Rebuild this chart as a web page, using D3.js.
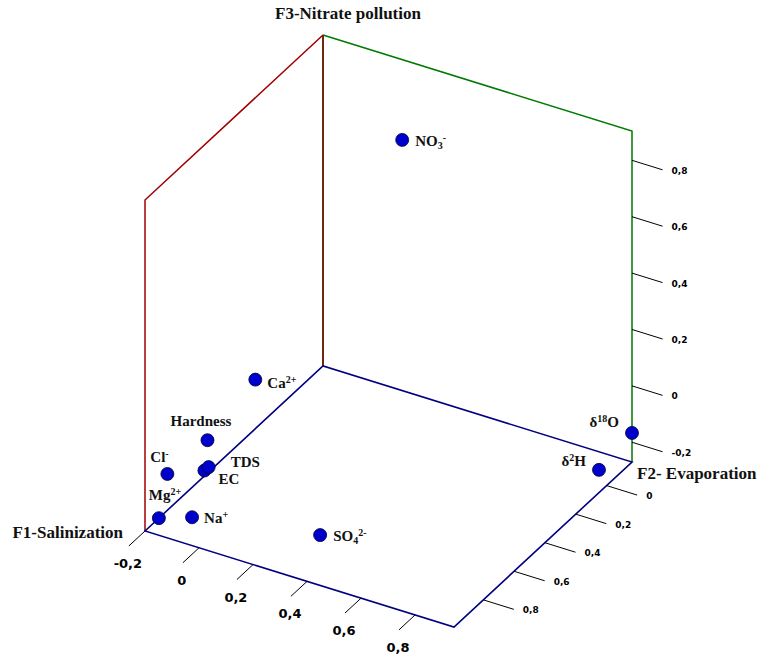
<!DOCTYPE html>
<html>
<head>
<meta charset="utf-8">
<script src="https://cdn.jsdelivr.net/npm/d3@7"></script>
<style>
  body { margin: 0; background: #fff; }
</style>
</head>
<body>
<div id="chart"></div>
<script>
// factor loadings
const variables = ['EC', 'TDS', 'Cl^{-}', 'Na^{+}', 'Mg^{2+}', 'Hardness', 'Ca^{2+}', 'SO_{4}^{2-}', 'NO_{3}^{-}', 'δ^{18}O', 'δ^{2}H'];
const f1Values = [0.99, 0.98, 0.95, 0.93, 0.90, 0.90, 0.80, 0.80, 0.25, -0.165, -0.07];
const f2Values = [0.02, 0.03, -0.14, -0.06, -0.20, -0.02, 0.10, 0.34, 0.33, 0.944, 0.876];
const f3Values = [0.01, 0.02, -0.07, -0.21, -0.27, 0.06, 0.26, -0.22, 0.90, -0.167, -0.27];

const f1Domain = [-0.165, 0.99];
const f2Domain = [-0.2, 0.944];
const f3Domain = [-0.27, 0.904];

const f1Ticks = [0, 0.2, 0.4, 0.6, 0.8];
const f2Ticks = [-0.2, 0, 0.2, 0.4, 0.6, 0.8];
const f3Ticks = [-0.2, 0, 0.2, 0.4, 0.6, 0.8];

const axisTitles = ['F1-Salinization', 'F2- Evaporation', 'F3-Nitrate pollution'];

// label placement relative to the dot: [dx, dy, anchor]
const labelOffsets = {
  'EC': [14, 13, 'start'],
  'TDS': [22, 0, 'start'],
  'Cl^{-}': [-17, -12, 'start'],
  'Na^{+}': [12, 6, 'start'],
  'Mg^{2+}': [-10, -18, 'start'],
  'Hardness': [-37, -14, 'start'],
  'Ca^{2+}': [12, 8, 'start'],
  'SO_{4}^{2-}': [13, 6, 'start'],
  'NO_{3}^{-}': [13, 6, 'start'],
  'δ^{18}O': [-13, -6, 'end'],
  'δ^{2}H': [-13, -4, 'end']
};

const width = 774;
const height = 657;
const origin = [323, 366];
// comma decimals, plain hyphen for negatives
const tickText = v => (Math.abs(v) < 1e-9 ? '0' : v.toFixed(1).replace('.', ','));

const f1X = d3.scaleLinear().domain(f1Domain).range([0, -178]);
const f1Y = d3.scaleLinear().domain(f1Domain).range([0, 165]);
const f2X = d3.scaleLinear().domain(f2Domain).range([0, 309]);
const f2Y = d3.scaleLinear().domain(f2Domain).range([0, 96]);
const f3Y = d3.scaleLinear().domain(f3Domain).range([0, -331]);

const project = (a, b, c) => [origin[0] + f1X(a) + f2X(b), origin[1] + f1Y(a) + f2Y(b) + f3Y(c)];

const svg = d3.select('#chart')
  .append('svg')
  .attr('width', width)
  .attr('height', height);

const [f1min, f1max] = f1Domain;
const [f2min, f2max] = f2Domain;
const [f3min, f3max] = f3Domain;

const A = project(f1max, f2min, f3min);
const B = project(f1min, f2min, f3min);
const C = project(f1min, f2max, f3min);
const D = project(f1max, f2max, f3min);
const Atop = project(f1max, f2min, f3max);
const Btop = project(f1min, f2min, f3max);
const Ctop = project(f1min, f2max, f3max);

const line = d3.line();

// walls
svg.append('path')
  .attr('d', line([A, Atop, Btop]))
  .attr('fill', 'none')
  .attr('stroke', '#a00000')
  .attr('stroke-width', 1.5);

svg.append('path')
  .attr('d', line([Btop, Ctop, C]))
  .attr('fill', 'none')
  .attr('stroke', '#007a00')
  .attr('stroke-width', 1.5);

svg.append('path')
  .attr('d', line([B, Btop]))
  .attr('fill', 'none')
  .attr('stroke', '#6e2a10')
  .attr('stroke-width', 2);

// floor
svg.append('path')
  .attr('d', line([A, B, C, D]) + 'Z')
  .attr('fill', 'none')
  .attr('stroke', '#000080')
  .attr('stroke-width', 1.6);

// unit vectors for the tick marks
const unit = (p, q) => {
  const dx = q[0] - p[0];
  const dy = q[1] - p[1];
  const n = Math.hypot(dx, dy);
  return [dx / n, dy / n];
};
const dirF1 = unit(B, A);
const dirF2 = unit(B, C);

// F2 ticks on the front edge
const f2TickLen = 22;
const f2g = svg.append('g');
f2Ticks.forEach(v => {
  const p = project(f1max, v, f3min);
  const q = [p[0] + dirF1[0] * f2TickLen, p[1] + dirF1[1] * f2TickLen];
  f2g.append('line')
    .attr('x1', p[0]).attr('y1', p[1])
    .attr('x2', q[0]).attr('y2', q[1])
    .attr('stroke', '#000')
    .attr('stroke-width', 1);
  f2g.append('text')
    .attr('x', q[0] - 1)
    .attr('y', q[1] + 22)
    .attr('text-anchor', 'middle')
    .style('font-family', 'DejaVu Sans, Verdana, sans-serif')
    .style('font-weight', 'bold')
    .style('font-size', '13px')
    .text(tickText(v));
});

// F1 ticks on the right front edge
const sideTickLen = 32;
const f1g = svg.append('g');
f1Ticks.forEach(v => {
  const p = project(v, f2max, f3min);
  const q = [p[0] + dirF2[0] * sideTickLen, p[1] + dirF2[1] * sideTickLen];
  f1g.append('line')
    .attr('x1', p[0]).attr('y1', p[1])
    .attr('x2', q[0]).attr('y2', q[1])
    .attr('stroke', '#000')
    .attr('stroke-width', 1);
  f1g.append('text')
    .attr('x', q[0] + 9)
    .attr('y', q[1] + 4)
    .style('font-family', 'DejaVu Sans, Verdana, sans-serif')
    .style('font-weight', 'bold')
    .style('font-size', '9px')
    .text(tickText(v));
});

// F3 ticks on the vertical edge
const f3g = svg.append('g');
f3Ticks.forEach(v => {
  const p = project(f1min, f2max, v);
  const q = [p[0] + dirF2[0] * sideTickLen, p[1] + dirF2[1] * sideTickLen];
  f3g.append('line')
    .attr('x1', p[0]).attr('y1', p[1])
    .attr('x2', q[0]).attr('y2', q[1])
    .attr('stroke', '#000')
    .attr('stroke-width', 1);
  f3g.append('text')
    .attr('x', q[0] + 9)
    .attr('y', q[1] + 4)
    .style('font-family', 'DejaVu Sans, Verdana, sans-serif')
    .style('font-weight', 'bold')
    .style('font-size', '9px')
    .text(tickText(v));
});

// axis titles
const titleStyle = sel => sel
  .style('font-family', 'Liberation Serif, Times New Roman, serif')
  .style('font-weight', 'bold')
  .style('font-size', '17px')
  .attr('fill', '#111');

svg.append('text')
  .attr('x', A[0] - 22)
  .attr('y', A[1] + 7)
  .attr('text-anchor', 'end')
  .call(titleStyle)
  .text(axisTitles[0]);

svg.append('text')
  .attr('x', C[0] + 5)
  .attr('y', C[1] + 17)
  .call(titleStyle)
  .text(axisTitles[1]);

svg.append('text')
  .attr('x', Btop[0] + 25)
  .attr('y', Btop[1] - 16)
  .attr('text-anchor', 'middle')
  .call(titleStyle)
  .text(axisTitles[2]);

// points
const points = variables.map((name, i) => ({
  name,
  pos: project(f1Values[i], f2Values[i], f3Values[i])
}));

svg.append('g')
  .selectAll('circle')
  .data(points)
  .enter()
  .append('circle')
  .attr('cx', d => d.pos[0])
  .attr('cy', d => d.pos[1])
  .attr('r', 6.5)
  .attr('fill', '#0000cc')
  .attr('stroke', '#000033')
  .attr('stroke-width', 0.8);

// split "NO_{3}^{-}" into plain / sub / sup pieces
const parseLabel = s => {
  const parts = [];
  const re = /([_^])\{([^}]*)\}|([^_^]+)/g;
  let m;
  while ((m = re.exec(s)) !== null) {
    if (m[3]) parts.push({ text: m[3], shift: null });
    else parts.push({ text: m[2], shift: m[1] === '_' ? 'sub' : 'super' });
  }
  return parts;
};

const labels = svg.append('g')
  .selectAll('text')
  .data(points)
  .enter()
  .append('text')
  .attr('x', d => d.pos[0] + labelOffsets[d.name][0])
  .attr('y', d => d.pos[1] + labelOffsets[d.name][1])
  .attr('text-anchor', d => labelOffsets[d.name][2])
  .style('font-family', 'Liberation Serif, Times New Roman, serif')
  .style('font-weight', 'bold')
  .style('font-size', '15px')
  .attr('fill', '#111');

labels.each(function (d) {
  const t = d3.select(this);
  parseLabel(d.name).forEach(part => {
    const span = t.append('tspan').text(part.text);
    if (part.shift) {
      span.style('font-size', '10px')
        .attr('baseline-shift', part.shift === 'sub' ? '-3' : '5');
    }
  });
});
</script>
</body>
</html>
